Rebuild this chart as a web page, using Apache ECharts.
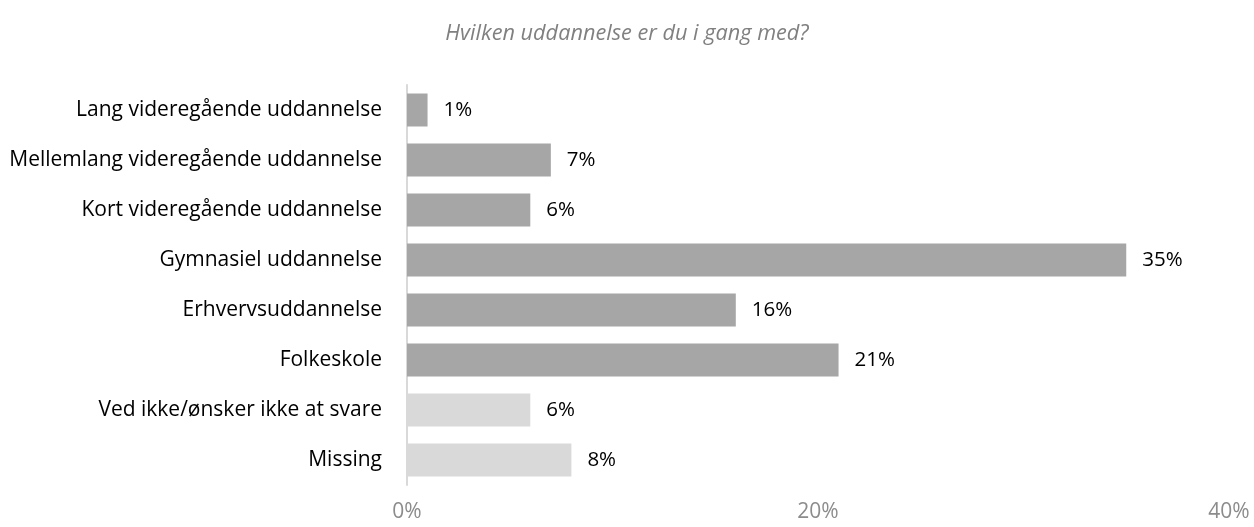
<!DOCTYPE html>
<html>
<head>
<meta charset="utf-8">
<title>Hvilken uddannelse er du i gang med?</title>
<script src="https://cdn.jsdelivr.net/npm/echarts@6/dist/echarts.min.js"></script>
<style>
    html, body {
        margin: 0;
        padding: 0;
        background: #fff;
    }

    #chart {
        width: 1254px;
        height: 527px;
    }
</style>
</head>
<body>
<div id="chart"></div>
<script>
    // categories top to bottom
    var categories = [
        'Lang videregående uddannelse',
        'Mellemlang videregående uddannelse',
        'Kort videregående uddannelse',
        'Gymnasiel uddannelse',
        'Erhvervsuddannelse',
        'Folkeskole',
        'Ved ikke/ønsker ikke at svare',
        'Missing'
    ];
    var values = [1, 7, 6, 35, 16, 21, 6, 8];
    // the last two rows are drawn lighter
    var isMuted = [false, false, false, false, false, false, true, true];
    var xTicks = [0, 20, 40];

    var fontFamily = '"Open Sans", Lato, sans-serif';

    var chart = echarts.init(document.getElementById('chart'));

    var barData = values.map(function (v, i) {
        return {
            value: v,
            itemStyle: {color: isMuted[i] ? '#d9d9d9' : '#a6a6a6'}
        };
    });

    chart.setOption({
        animation: false,
        title: {
            text: 'Hvilken uddannelse er du i gang med?',
            left: 'center',
            top: 18,
            textStyle: {
                fontFamily: fontFamily,
                fontStyle: 'italic',
                fontWeight: 'normal',
                fontSize: 21.7,
                color: '#808080'
            }
        },
        grid: {
            left: 407,
            right: 25,
            top: 85,
            bottom: 42
        },
        xAxis: {
            type: 'value',
            min: xTicks[0],
            max: xTicks[xTicks.length - 1],
            interval: xTicks[1] - xTicks[0],
            splitLine: {show: false},
            axisLine: {show: false},
            axisTick: {show: false},
            axisLabel: {
                formatter: '{value}%',
                margin: 17,
                fontFamily: fontFamily,
                fontSize: 21,
                color: '#8c8c8c'
            }
        },
        yAxis: {
            type: 'category',
            inverse: true,
            data: categories,
            axisLine: {show: true, lineStyle: {color: '#d9d9d9', width: 2}},
            axisTick: {show: false},
            axisLabel: {
                margin: 25,
                fontFamily: fontFamily,
                fontSize: 21,
                color: '#000'
            }
        },
        series: [{
            type: 'bar',
            data: barData,
            barCategoryGap: '34%',
            label: {
                show: true,
                position: 'right',
                distance: 16,
                formatter: '{c}%',
                fontFamily: fontFamily,
                fontSize: 20.5,
                color: '#000'
            }
        }]
    });
</script>
</body>
</html>
